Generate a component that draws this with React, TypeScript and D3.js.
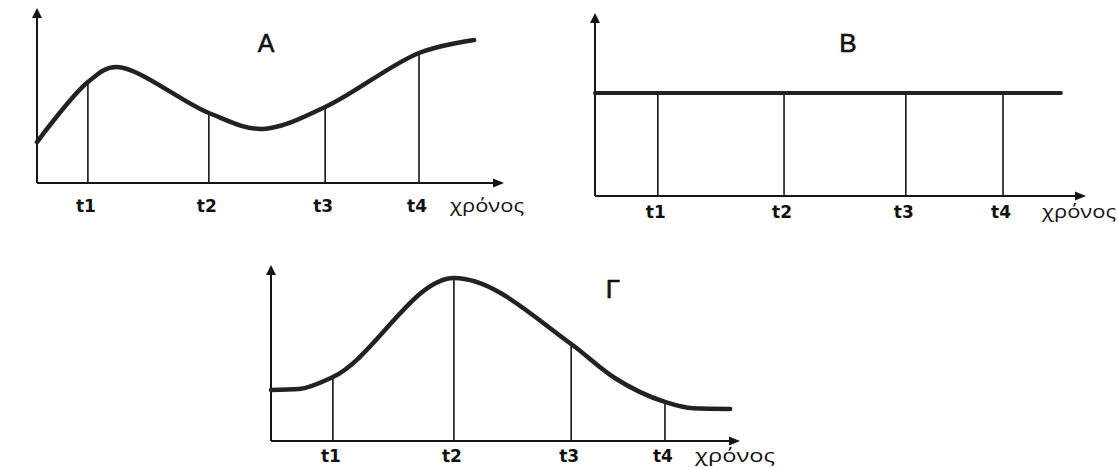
import React from "react";
import * as d3 from "d3";

const TICK_LABELS = ["t1", "t2", "t3", "t4"];
const AXIS_LABEL = "χρόνος";
const PANEL_TITLES = ["A", "B", "Γ"];

// Panel A (values in 0..100 units of each panel's axes)
const A_TIME = [0, 10.9, 17.0, 36.8, 48.2, 61.7, 81.8, 93.6];
const A_VALUE = [23.4, 57.7, 66.3, 40.0, 30.9, 43.4, 74.3, 81.7];
const A_TICKS = [10.9, 36.8, 61.7, 81.8];

// Panel B
const B_TIME = [0, 94.9];
const B_VALUE = [56.3, 56.3];
const B_TICKS = [12.8, 38.5, 63.3, 83.1];

// Panel Γ
const C_TIME = [0, 6.0, 13.2, 39.0, 64.0, 73.3, 84.0, 90.0, 97.9];
const C_VALUE = [29.0, 29.6, 36.4, 92.6, 55.1, 35.8, 22.2, 18.6, 18.2];
const C_TICKS = [13.2, 39.0, 64.0, 84.0];

const LAYOUTS = [
  { left: 37, bottom: 183, right: 504, top: 8, labelDy: 29, axisLabelX: 450, axisLabelW: 74, titleX: 266, titleY: 52, titleSize: 25, lineW: 4.5 },
  { left: 595, bottom: 196, right: 1086, top: 13, labelDy: 22, axisLabelX: 1042, axisLabelW: 74, titleX: 848, titleY: 52, titleSize: 26, lineW: 4 },
  { left: 271, bottom: 441, right: 740, top: 265, labelDy: 21, axisLabelX: 695, axisLabelW: 80, titleX: 613, titleY: 298, titleSize: 26, lineW: 4.5 },
];

function valueAt(times: number[], values: number[], t: number) {
  const interp = d3.scaleLinear().domain(times).range(values).clamp(true);
  return interp(t);
}

type PanelProps = {
  time: number[];
  value: number[];
  ticks: number[];
  title: string;
  L: any;
  curve: any;
};

function Panel({ time, value, ticks, title, L, curve }: PanelProps) {
  const x = d3.scaleLinear().domain([0, 100]).range([L.left, L.right]);
  const y = d3.scaleLinear().domain([0, 100]).range([L.bottom, L.top]);
  const line = d3
    .line<number>()
    .x((d) => x(d))
    .y((_d, i) => y(value[i]))
    .curve(curve);
  const axisColor = "#151515";
  const xa = 11;
  const ya = 10;
  return (
    <g>
      {/* y axis */}
      <line x1={x(0)} y1={y(0)} x2={x(0)} y2={y(100) + ya} stroke={axisColor} strokeWidth={2} />
      <path
        d={`M${x(0) - 5},${y(100) + ya} L${x(0)},${y(100)} L${x(0) + 5},${y(100) + ya} Z`}
        fill={axisColor}
      />
      {/* x axis */}
      <line x1={x(0)} y1={y(0)} x2={x(100) - xa} y2={y(0)} stroke={axisColor} strokeWidth={2} />
      <path
        d={`M${x(100) - xa},${y(0) - 4.5} L${x(100)},${y(0)} L${x(100) - xa},${y(0) + 4.5} Z`}
        fill={axisColor}
      />
      {/* drop lines */}
      {ticks.map((t, i) => (
        <line
          key={"d" + i}
          x1={x(t)}
          x2={x(t)}
          y1={y(0)}
          y2={y(valueAt(time, value, t))}
          stroke={axisColor}
          strokeWidth={1.6}
        />
      ))}
      {/* curve */}
      <path d={line(time) || ""} fill="none" stroke="#222" strokeWidth={L.lineW} strokeLinecap="round" strokeLinejoin="round" />
      {/* tick labels */}
      {ticks.map((t, i) => (
        <text
          key={"l" + i}
          x={x(t) - 2}
          y={y(0) + L.labelDy}
          textAnchor="middle"
          fontFamily="'DejaVu Sans', sans-serif"
          fontWeight="bold"
          fontSize={17}
          fill="#111"
        >
          {TICK_LABELS[i]}
        </text>
      ))}
      <text
        x={L.axisLabelX}
        y={y(0) + L.labelDy}
        fontFamily="'Open Sans', sans-serif"
        fontSize={19}
        fill="#111"
        textLength={L.axisLabelW}
        lengthAdjust="spacingAndGlyphs"
      >
        {AXIS_LABEL}
      </text>
      <text
        x={L.titleX}
        y={L.titleY}
        textAnchor="middle"
        fontFamily="'Liberation Sans', Arial, sans-serif"
        fontSize={L.titleSize}
        stroke="#111"
        strokeWidth={0.6}
        fill="#111"
      >
        {title}
      </text>
    </g>
  );
}

export default function App() {
  return (
    <svg
      width={1118}
      height={468}
      viewBox="0 0 1118 468"
      style={{ position: "absolute", left: 0, top: 0, background: "#fff" }}
    >
      <rect x={0} y={0} width={1118} height={468} fill="#fff" />
      <Panel time={A_TIME} value={A_VALUE} ticks={A_TICKS} title={PANEL_TITLES[0]} L={LAYOUTS[0]} curve={d3.curveCatmullRom.alpha(0.5)} />
      <Panel time={B_TIME} value={B_VALUE} ticks={B_TICKS} title={PANEL_TITLES[1]} L={LAYOUTS[1]} curve={d3.curveLinear} />
      <Panel time={C_TIME} value={C_VALUE} ticks={C_TICKS} title={PANEL_TITLES[2]} L={LAYOUTS[2]} curve={d3.curveMonotoneX} />
    </svg>
  );
}
